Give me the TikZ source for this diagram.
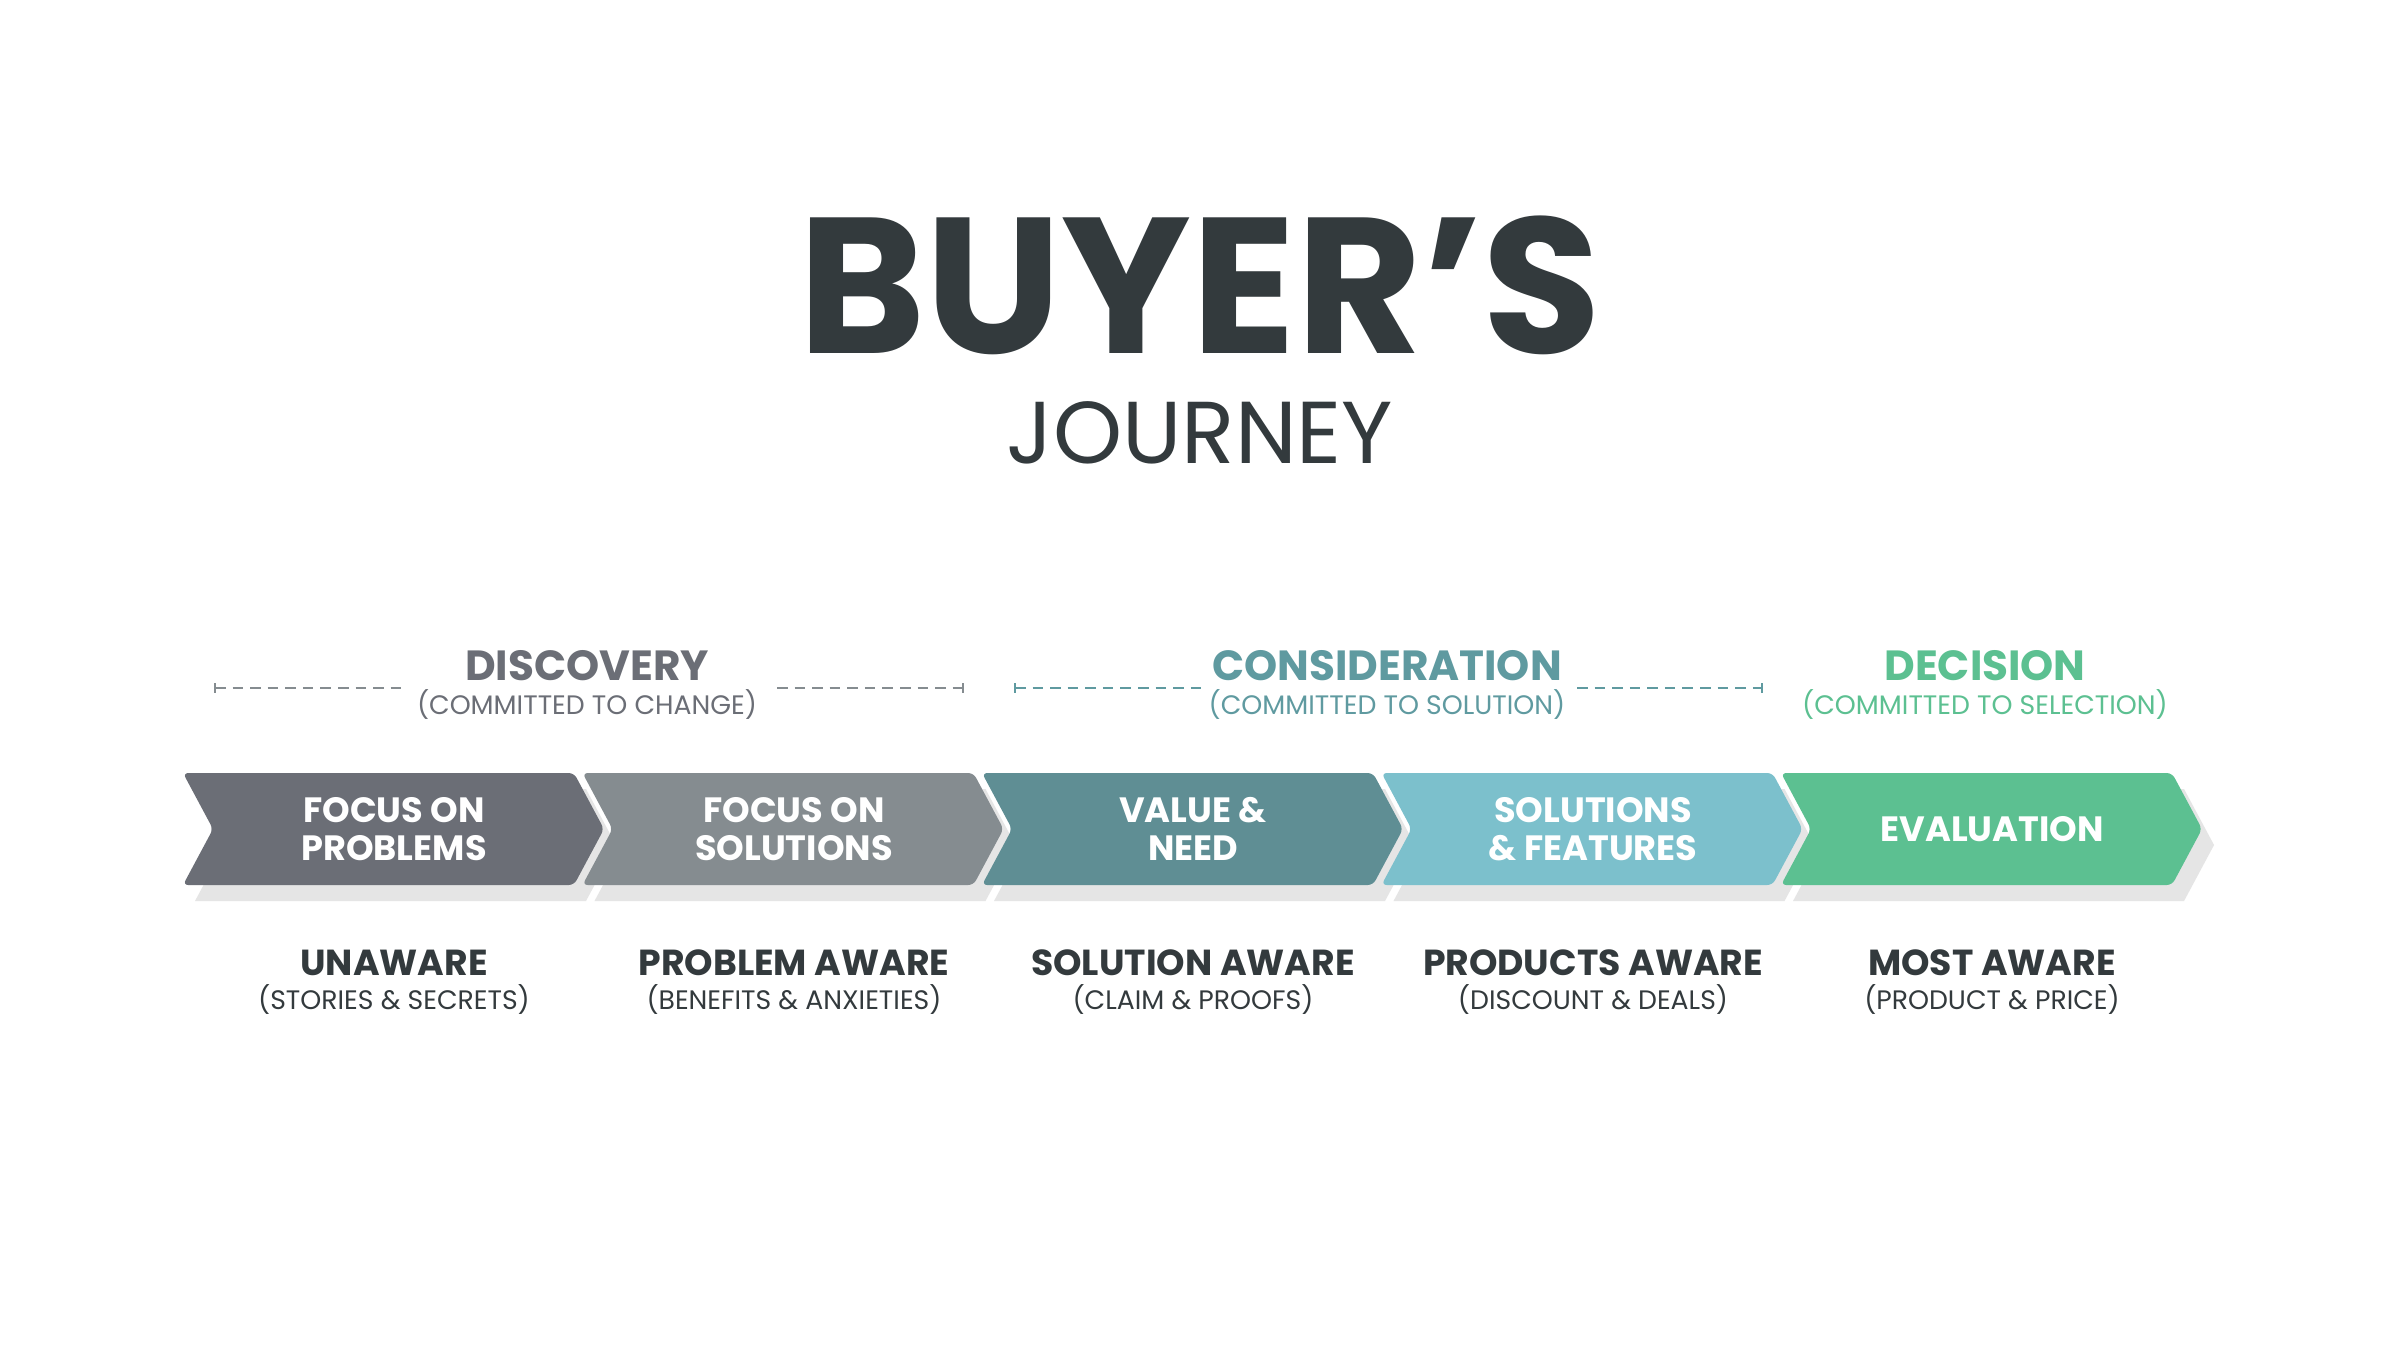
\documentclass[tikz,border=0pt]{standalone}
\usepackage{fontspec}
\setmainfont{Poppins}
\definecolor{dark}{HTML}{333A3D}
\definecolor{c1}{HTML}{6B6E76}
\definecolor{c2}{HTML}{858C90}
\definecolor{c3}{HTML}{5F8E94}
\definecolor{c4}{HTML}{7CC0CC}
\definecolor{c5}{HTML}{5CC091}
\definecolor{h2}{HTML}{5F9AA0}
\begin{document}
\begin{tikzpicture}[
  lab/.style={text=white,font=\bfseries\fontsize{10}{11}\selectfont,align=center},
  head/.style={font=\bfseries\fontsize{12}{12}\selectfont},
  sub/.style={font=\fontsize{7.6}{7.6}\selectfont},
  bot/.style={font=\bfseries\fontsize{10.3}{10.3}\selectfont,text=dark},
  bsub/.style={font=\fontsize{7.6}{7.6}\selectfont,text=dark},
  dl/.style={densely dashed,line width=0.5pt}]
\useasboundingbox (0,0) rectangle (24,-13.5);
\fill[white] (0,0) rectangle (24,-13.5);
\node[font=\bfseries\fontsize{55}{55}\selectfont,text=dark] (t1) at (12.0,-2.85) {BUYER’S};
\node[font=\fontsize{25}{25}\selectfont,text=dark] (t2) at (12.0,-4.33) {JOURNEY};
% headers
\node[head,text=c1] (h1) at (5.87,-6.66) {DISCOVERY};
\node[sub,text=c1] (s1) at (5.87,-7.04) {(COMMITTED TO CHANGE)};
\node[head,text=h2] (h2n) at (13.87,-6.66) {CONSIDERATION};
\node[sub,text=h2] (s2) at (13.87,-7.04) {(COMMITTED TO SOLUTION)};
\node[head,text=c5] (h3) at (19.85,-6.66) {DECISION};
\node[sub,text=c5] (s3) at (19.85,-7.04) {(COMMITTED TO SELECTION)};
\draw[dl,c2] (2.15,-6.88) -- (4.03,-6.88); \draw[c2] (2.15,-6.83)--(2.15,-6.93);
\draw[dl,c2] (7.77,-6.88) -- (9.63,-6.88); \draw[c2] (9.63,-6.83)--(9.63,-6.93);
\draw[dl,h2] (10.15,-6.88) -- (12.03,-6.88); \draw[h2] (10.15,-6.83)--(10.15,-6.93);
\draw[dl,h2] (15.77,-6.88) -- (17.62,-6.88); \draw[h2] (17.62,-6.83)--(17.62,-6.93);
% chevrons
\foreach \i/\c in {0/c1,1/c2,2/c3,3/c4,4/c5}{
  \pgfmathsetmacro\x{1.83+3.995*\i}
  \fill[black!10] ([xshift=1.2mm,yshift=-1.6mm]\x,-7.73) -- ++(3.91,0) -- ++(0.3,-0.56) -- ++(-0.3,-0.56) -- ++(-3.91,0) -- ++(0.3,0.56) -- cycle;
  \fill[\c,rounded corners=1.5pt] (\x,-7.73) -- ++(3.91,0) -- ++(0.3,-0.56) -- ++(-0.3,-0.56) -- ++(-3.91,0) -- ++(0.3,0.56) -- cycle;
}
\node[lab] (a1) at (3.94,-8.29) {FOCUS ON\\PROBLEMS};
\node[lab] (a2) at (7.94,-8.29) {FOCUS ON\\SOLUTIONS};
\node[lab] (a3) at (11.93,-8.29) {VALUE \&\\NEED};
\node[lab] (a4) at (15.93,-8.29) {SOLUTIONS\\\& FEATURES};
\node[lab] (a5) at (19.92,-8.29) {EVALUATION};
% bottom
\foreach \n/\x/\a/\b in {1/3.94/UNAWARE/(STORIES \& SECRETS),2/7.94/PROBLEM AWARE/(BENEFITS \& ANXIETIES),3/11.93/SOLUTION AWARE/(CLAIM \& PROOFS),4/15.93/PRODUCTS AWARE/(DISCOUNT \& DEALS),5/19.92/MOST AWARE/(PRODUCT \& PRICE)}{
  \node[bot] (b\n) at (\x,-9.63) {\a};
  \node[bsub] (bs\n) at (\x,-9.99) {\b};
}
\end{tikzpicture}
\end{document}
